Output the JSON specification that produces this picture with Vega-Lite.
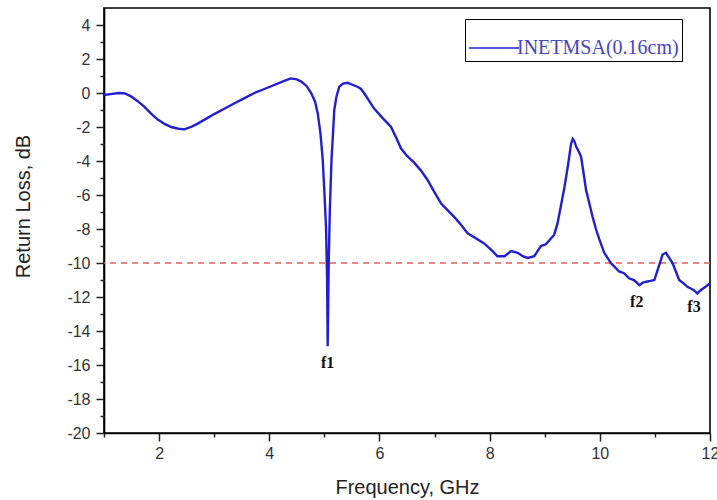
{
  "$schema": "https://vega.github.io/schema/vega-lite/v6.json",
  "width": 606,
  "height": 425,
  "autosize": {"type": "none"},
  "padding": {"left": 104, "top": 8, "right": 7, "bottom": 67},
  "background": "white",
  "config": {
    "view": {"stroke": "black", "strokeWidth": 1.6},
    "axis": {
      "labelFont": "Liberation Sans",
      "labelFontSize": 16,
      "labelColor": "#333",
      "labelOverlap": false,
      "titleFont": "Liberation Sans",
      "titleFontSize": 20,
      "titleFontWeight": "normal",
      "titleColor": "#222",
      "domainColor": "black",
      "domainWidth": 1.6,
      "tickColor": "#222",
      "tickWidth": 1.5,
      "ticks": true,
      "grid": false
    }
  },
  "datasets": {
    "curve": [
      {"f": 1.0, "rl": -0.12}, {"f": 1.15, "rl": -0.05}, {"f": 1.27, "rl": 0}, {"f": 1.38, "rl": -0.02},
      {"f": 1.49, "rl": -0.2}, {"f": 1.6, "rl": -0.45}, {"f": 1.73, "rl": -0.8}, {"f": 1.85, "rl": -1.2},
      {"f": 1.97, "rl": -1.55}, {"f": 2.1, "rl": -1.82}, {"f": 2.22, "rl": -2.0}, {"f": 2.35, "rl": -2.1},
      {"f": 2.46, "rl": -2.14}, {"f": 2.58, "rl": -2.0}, {"f": 2.7, "rl": -1.8}, {"f": 2.85, "rl": -1.52},
      {"f": 3.0, "rl": -1.24}, {"f": 3.2, "rl": -0.9}, {"f": 3.37, "rl": -0.6}, {"f": 3.55, "rl": -0.3},
      {"f": 3.73, "rl": 0}, {"f": 3.9, "rl": 0.22}, {"f": 4.09, "rl": 0.47}, {"f": 4.25, "rl": 0.68},
      {"f": 4.39, "rl": 0.86}, {"f": 4.5, "rl": 0.8}, {"f": 4.58, "rl": 0.67}, {"f": 4.68, "rl": 0.4},
      {"f": 4.76, "rl": 0}, {"f": 4.83, "rl": -0.5}, {"f": 4.88, "rl": -1.2}, {"f": 4.93, "rl": -2.4},
      {"f": 4.97, "rl": -3.9}, {"f": 5.0, "rl": -5.8}, {"f": 5.03, "rl": -7.9}, {"f": 5.05, "rl": -11},
      {"f": 5.06, "rl": -14.9}, {"f": 5.07, "rl": -12.5}, {"f": 5.08, "rl": -9.8}, {"f": 5.1, "rl": -6.8},
      {"f": 5.13, "rl": -3.9}, {"f": 5.16, "rl": -2.2}, {"f": 5.18, "rl": -1.0}, {"f": 5.22, "rl": -0.2},
      {"f": 5.27, "rl": 0.37}, {"f": 5.34, "rl": 0.55}, {"f": 5.42, "rl": 0.6}, {"f": 5.5, "rl": 0.5},
      {"f": 5.6, "rl": 0.37}, {"f": 5.66, "rl": 0.25}, {"f": 5.72, "rl": 0.0}, {"f": 5.81, "rl": -0.45},
      {"f": 5.9, "rl": -0.9}, {"f": 6.05, "rl": -1.45}, {"f": 6.21, "rl": -2.0}, {"f": 6.3, "rl": -2.6},
      {"f": 6.39, "rl": -3.25}, {"f": 6.5, "rl": -3.7}, {"f": 6.63, "rl": -4.1}, {"f": 6.75, "rl": -4.55},
      {"f": 6.87, "rl": -5.1}, {"f": 7.0, "rl": -5.85}, {"f": 7.12, "rl": -6.5}, {"f": 7.24, "rl": -6.9},
      {"f": 7.36, "rl": -7.3}, {"f": 7.48, "rl": -7.75}, {"f": 7.6, "rl": -8.25}, {"f": 7.75, "rl": -8.55},
      {"f": 7.9, "rl": -8.85}, {"f": 8.02, "rl": -9.2}, {"f": 8.14, "rl": -9.6}, {"f": 8.27, "rl": -9.6},
      {"f": 8.39, "rl": -9.3}, {"f": 8.51, "rl": -9.4}, {"f": 8.6, "rl": -9.6}, {"f": 8.69, "rl": -9.7},
      {"f": 8.81, "rl": -9.6}, {"f": 8.87, "rl": -9.3}, {"f": 8.93, "rl": -9.0}, {"f": 9.02, "rl": -8.9},
      {"f": 9.1, "rl": -8.6}, {"f": 9.17, "rl": -8.35}, {"f": 9.23, "rl": -7.7}, {"f": 9.29, "rl": -6.7},
      {"f": 9.36, "rl": -5.5}, {"f": 9.42, "rl": -4.3}, {"f": 9.48, "rl": -2.96}, {"f": 9.51, "rl": -2.7},
      {"f": 9.54, "rl": -2.85}, {"f": 9.57, "rl": -3.15}, {"f": 9.62, "rl": -3.45}, {"f": 9.66, "rl": -3.75},
      {"f": 9.7, "rl": -4.6}, {"f": 9.75, "rl": -5.7}, {"f": 9.81, "rl": -6.5}, {"f": 9.87, "rl": -7.3},
      {"f": 9.93, "rl": -8.0}, {"f": 9.99, "rl": -8.6}, {"f": 10.08, "rl": -9.4}, {"f": 10.14, "rl": -9.7},
      {"f": 10.2, "rl": -10.0}, {"f": 10.26, "rl": -10.2}, {"f": 10.35, "rl": -10.5}, {"f": 10.44, "rl": -10.6},
      {"f": 10.53, "rl": -10.9}, {"f": 10.62, "rl": -11.0}, {"f": 10.72, "rl": -11.3}, {"f": 10.78, "rl": -11.15},
      {"f": 10.84, "rl": -11.1}, {"f": 10.92, "rl": -11.05}, {"f": 10.99, "rl": -11.0}, {"f": 11.05, "rl": -10.4},
      {"f": 11.1, "rl": -9.9}, {"f": 11.14, "rl": -9.5}, {"f": 11.2, "rl": -9.4}, {"f": 11.26, "rl": -9.7},
      {"f": 11.32, "rl": -10.0}, {"f": 11.38, "rl": -10.5}, {"f": 11.44, "rl": -11.0}, {"f": 11.52, "rl": -11.2},
      {"f": 11.59, "rl": -11.4}, {"f": 11.65, "rl": -11.5}, {"f": 11.71, "rl": -11.6}, {"f": 11.77, "rl": -11.8},
      {"f": 11.83, "rl": -11.6}, {"f": 11.92, "rl": -11.4}, {"f": 12.0, "rl": -11.2}
    ],
    "marks": [
      {"label": "f1", "f": 5.06, "rl": -15.9},
      {"label": "f2", "f": 10.67, "rl": -12.3},
      {"label": "f3", "f": 11.71, "rl": -12.6}
    ],
    "threshold": [{"level": -10}]
  },
  "resolve": {"axis": {"x": "independent", "y": "independent"}},
  "layer": [
    {
      "data": {"name": "threshold"},
      "mark": {"type": "rule", "color": "#e06060", "strokeDash": [6, 5], "strokeWidth": 1.3},
      "encoding": {"y": {"field": "level", "type": "quantitative", "axis": null}}
    },
    {
      "data": {"name": "curve"},
      "transform": [{"calculate": "'INETMSA(0.16cm)'", "as": "series"}],
      "mark": {"type": "line", "strokeWidth": 2.4},
      "encoding": {
        "x": {
          "field": "f", "type": "quantitative",
          "scale": {"domain": [1, 12], "nice": false, "zero": false},
          "axis": {
            "orient": "bottom",
            "title": "Frequency, GHz",
            "values": [2, 4, 6, 8, 10, 12],
            "labelExpr": "'' + datum.value",
            "tickSize": 8,
            "labelPadding": 4,
            "labelFlush": false,
            "titleY": 54,
            "titleBaseline": "middle"
          }
        },
        "y": {
          "field": "rl", "type": "quantitative",
          "scale": {"domain": [-20, 5], "nice": false, "zero": false},
          "axis": {
            "orient": "left",
            "title": "Return Loss, dB",
            "values": [-20, -18, -16, -14, -12, -10, -8, -6, -4, -2, 0, 2, 4],
            "labelExpr": "'' + datum.value",
            "tickSize": 8,
            "labelPadding": 6,
            "titleX": -81,
            "titleY": 198,
            "titleAngle": -90,
            "titleAlign": "center",
            "titleBaseline": "middle"
          }
        },
        "color": {
          "field": "series", "type": "nominal",
          "scale": {"range": ["#2020d0"]},
          "legend": {
            "title": null,
            "orient": "none",
            "legendX": 361,
            "legendY": 11,
            "symbolType": "stroke",
            "symbolSize": 2500,
            "symbolStrokeWidth": 1.5,
            "labelFont": "Liberation Serif",
            "labelFontSize": 20,
            "labelColor": "#4646c0",
            "labelOffset": -3,
            "labelLimit": 400,
            "padding": 3,
            "strokeColor": "black",
            "fillColor": "white"
          }
        }
      }
    },
    {
      "data": {"name": "marks"},
      "mark": {"type": "text", "font": "Liberation Serif", "fontWeight": "bold", "fontSize": 16, "color": "#111"},
      "encoding": {
        "x": {
          "field": "f", "type": "quantitative",
          "axis": {
            "orient": "bottom",
            "title": null,
            "values": [1, 3, 5, 7, 9, 11],
            "labels": false,
            "domain": false,
            "tickSize": 4
          }
        },
        "y": {
          "field": "rl", "type": "quantitative",
          "axis": {
            "orient": "left",
            "title": null,
            "values": [-19, -17, -15, -13, -11, -9, -7, -5, -3, -1, 1, 3],
            "labels": false,
            "domain": false,
            "tickSize": 4
          }
        },
        "text": {"field": "label"}
      }
    }
  ]
}
